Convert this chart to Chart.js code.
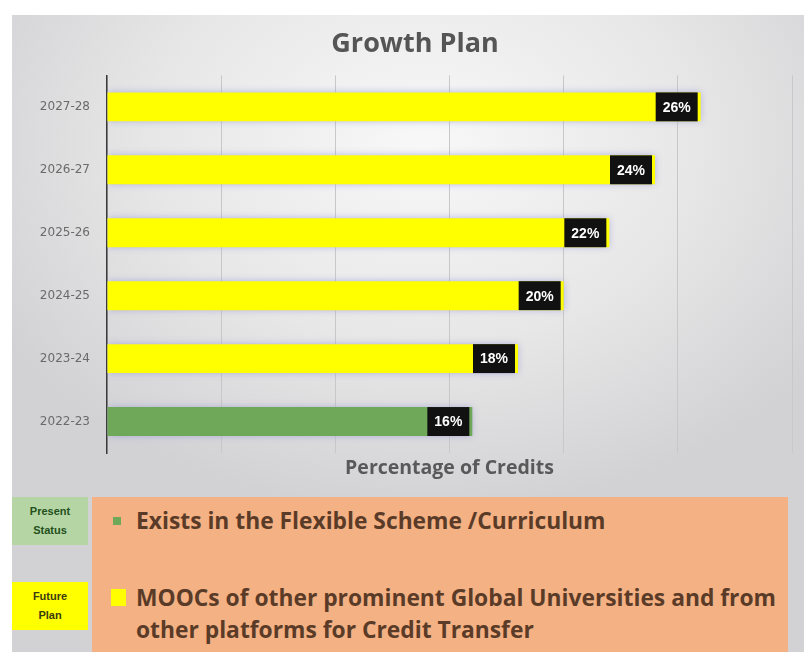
<!DOCTYPE html>
<html>
<head>
<meta charset="utf-8">
<title>Growth Plan</title>
<script src="https://cdn.jsdelivr.net/npm/chart.js@4.4.0/dist/chart.umd.min.js"></script>
<style>
  body { margin: 0; background: #fff; width: 812px; height: 652px; overflow: hidden; position: relative; font-family: "Open Sans", "Liberation Sans", sans-serif; }
  #panel { position: absolute; left: 12px; top: 15px; width: 792px; height: 637px;
    background: radial-gradient(ellipse 62% 58% at 52% 20%, #f8f8f8 0%, #e7e7e7 55%, #d2d2d5 100%); }
  #wrap { position: absolute; left: 0; top: 0; width: 812px; height: 490px; }
  .tag { position: absolute; left: 12px; width: 76px; height: 48px; display: flex; align-items: center; justify-content: center;
    text-align: center; white-space: pre-line; font: bold 11px "Liberation Sans", sans-serif; line-height: 19px; }
  #tag0 { top: 497px; background: #b5d5a4; color: #24501c; }
  #tag1 { top: 582px; background: #ffff00; color: #3b3b10; }
  #legendBox { position: absolute; left: 92px; top: 497px; width: 696px; height: 155px; background: #f4b183; }
  .item { position: absolute; left: 44px; white-space: pre-line; font: bold 22.8px "Open Sans", "Liberation Sans", sans-serif;
    line-height: 32px; color: #5a3b28; }
  .swatch { position: absolute; }
</style>
</head>
<body>
<div id="panel"></div>
<div id="wrap"><canvas id="growth"></canvas></div>
<div class="tag" id="tag0"></div>
<div class="tag" id="tag1"></div>
<div id="legendBox"></div>

<script>
// academic years, oldest first (drawn bottom-up)
const categories = ['2022-23', '2023-24', '2024-25', '2025-26', '2026-27', '2027-28'];
// share of credits, %
const presentValues = [16, null, null, null, null, null];
const futureValues = [null, 18, 20, 22, 24, 26];
const xMin = 0;
const xMax = 30;
const xStep = 5;

const seriesNames = [
  'Exists in the Flexible Scheme /Curriculum',
  'MOOCs of other prominent Global Universities and from\nother platforms for Credit Transfer'
];
const statusTags = ['Present\nStatus', 'Future\nPlan'];
const seriesColors = ['#70a85a', '#ffff00'];

// soft lavender halo behind the bars
const barGlow = {
  id: 'barGlow',
  beforeDatasetsDraw(chart) {
    const ctx = chart.ctx;
    ctx.save();
    ctx.shadowColor = 'rgba(150,150,215,0.75)';
    ctx.shadowBlur = 7;
  },
  afterDatasetsDraw(chart) {
    chart.ctx.restore();
  }
};

// black value tag sitting inside the end of each bar
const valueTags = {
  id: 'valueTags',
  afterDatasetsDraw(chart) {
    const ctx = chart.ctx;
    ctx.save();
    chart.data.datasets.forEach((ds, i) => {
      const meta = chart.getDatasetMeta(i);
      meta.data.forEach((bar, j) => {
        const v = ds.data[j];
        if (v == null) return;
        const p = bar.getProps(['x', 'y', 'height'], true);
        const w = 42;
        ctx.fillStyle = '#111';
        ctx.fillRect(p.x - 3 - w, p.y - p.height / 2, w, p.height);
        ctx.fillStyle = '#fff';
        ctx.font = 'bold 14px "Liberation Sans Narrow", "Liberation Sans", sans-serif';
        ctx.textAlign = 'center';
        ctx.textBaseline = 'middle';
        ctx.fillText(v + '%', p.x - 3 - w / 2, p.y + 1);
      });
    });
    ctx.restore();
  }
};

new Chart(document.getElementById('growth'), {
  type: 'bar',
  data: {
    labels: categories,
    datasets: [
      { label: seriesNames[0], data: presentValues, backgroundColor: seriesColors[0] },
      { label: seriesNames[1], data: futureValues, backgroundColor: seriesColors[1] }
    ]
  },
  options: {
    indexAxis: 'y',
    responsive: true,
    maintainAspectRatio: false,
    animation: false,
    grouped: false,
    barPercentage: 0.46,
    categoryPercentage: 1,
    borderWidth: 0,
    layout: { padding: { left: 38, right: 20, top: 0, bottom: 0 } },
    plugins: {
      legend: { display: false },
      tooltip: { enabled: false },
      title: {
        display: true,
        text: 'Growth Plan',
        color: '#555555',
        font: { family: 'Open Sans', size: 27, weight: 'bold' },
        padding: { top: 28, bottom: 15 }
      }
    },
    scales: {
      x: {
        min: xMin,
        max: xMax,
        ticks: { display: false, stepSize: xStep },
        grid: { color: '#c8c8c8', drawTicks: false },
        border: { display: false },
        title: {
          display: true,
          text: 'Percentage of Credits',
          color: '#595959',
          font: { family: 'Open Sans', size: 19.5, weight: 'bold' },
          padding: { top: 2, bottom: 10 }
        },
        afterFit(scale) { scale.height = 37; }
      },
      y: {
        reverse: true,
        grid: { display: false, drawTicks: false },
        border: { display: true, color: '#3a3a3a', width: 1.5 },
        ticks: { color: '#6a6a6a', padding: 17, font: { family: 'DejaVu Sans', size: 12 } },
        afterFit(scale) { scale.width = 69; }
      }
    }
  },
  plugins: [barGlow, valueTags]
});

// status tags and legend box below the chart
statusTags.forEach((t, i) => { document.getElementById('tag' + i).textContent = t; });

const legendBox = document.getElementById('legendBox');
const itemTops = [8, 85];
const swatches = [
  { left: -23, top: 12, w: 8, h: 8 },
  { left: -25, top: 7, w: 15, h: 17 }
];
seriesNames.forEach((name, i) => {
  const item = document.createElement('div');
  item.className = 'item';
  item.style.top = itemTops[i] + 'px';
  item.textContent = name;
  const sw = document.createElement('span');
  sw.className = 'swatch';
  const s = swatches[i];
  sw.style.cssText = `left:${s.left}px;top:${s.top}px;width:${s.w}px;height:${s.h}px;background:${seriesColors[i]};`;
  item.appendChild(sw);
  legendBox.appendChild(item);
});
</script>
</body>
</html>
